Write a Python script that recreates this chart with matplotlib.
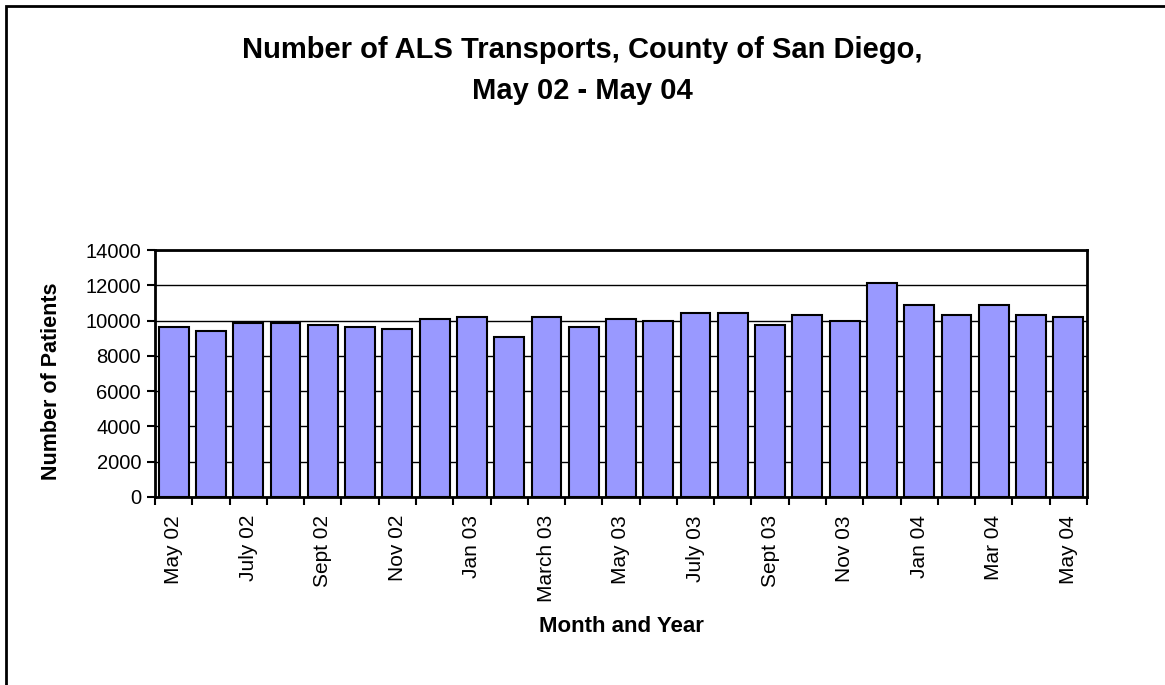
import matplotlib.pyplot as plt
from matplotlib.patches import Rectangle
from matplotlib.ticker import FixedLocator

plt.rcParams['font.family'] = ['Liberation Sans', 'DejaVu Sans']

months = ['May 02', 'June 02', 'July 02', 'Aug 02', 'Sept 02', 'Oct 02', 'Nov 02',
          'Dec 02', 'Jan 03', 'Feb 03', 'March 03', 'Apr 03', 'May 03', 'June 03',
          'July 03', 'Aug 03', 'Sept 03', 'Oct 03', 'Nov 03', 'Dec 03', 'Jan 04',
          'Feb 04', 'Mar 04', 'Apr 04', 'May 04']
patients = [9660, 9430, 9890, 9890, 9770, 9660, 9550, 10110, 10230, 9090,
            10230, 9660, 10110, 10000, 10450, 10450, 9770, 10340, 10000, 12150,
            10910, 10340, 10910, 10340, 10230]
yticks = [0, 2000, 4000, 6000, 8000, 10000, 12000, 14000]

fig = plt.figure(figsize=(11.65, 6.85), dpi=100)
ax = fig.add_axes([155 / 1165, 1 - 497 / 685, 932 / 1165, 247 / 685])

x = list(range(len(months)))
ax.bar(x, patients, width=0.8, color='#9999ff', edgecolor='black', linewidth=1.5, zorder=3)

ax.set_xlim(-0.5, len(months) - 0.5)
ax.set_ylim(0, 14000)
ax.set_yticks(yticks)
ax.yaxis.grid(True, color='black', linewidth=1, zorder=0)
ax.tick_params(axis='y', direction='out', length=6, width=1.5, labelsize=14.5, pad=4)

# labels on every other month, tick marks between categories
ax.set_xticks(x[::2])
ax.set_xticklabels(months[::2], rotation=90, fontsize=15)
ax.tick_params(axis='x', which='major', length=0, pad=13)
ax.xaxis.set_minor_locator(FixedLocator([i - 0.5 for i in range(len(months) + 1)]))
ax.tick_params(axis='x', which='minor', direction='out', length=6, width=1.5)

for s in ax.spines.values():
    s.set_linewidth(2)

ax.set_ylabel('Number of Patients', fontsize=15.5, fontweight='bold')
ax.yaxis.set_label_coords(-0.1, 0.47)
ax.set_xlabel('Month and Year', fontsize=16, fontweight='bold', labelpad=10)

fig.text(0.5, 1 - 36 / 685, 'Number of ALS Transports, County of San Diego,\nMay 02 - May 04',
         ha='center', va='top', fontsize=21, fontweight='bold', linespacing=1.6)

fig.patches.append(Rectangle((6 / 1165, -0.1), 1.2, 1 - 6 / 685 + 0.1,
                             transform=fig.transFigure, fill=False,
                             edgecolor='black', linewidth=2))

fig.savefig('out.png', dpi=100)
